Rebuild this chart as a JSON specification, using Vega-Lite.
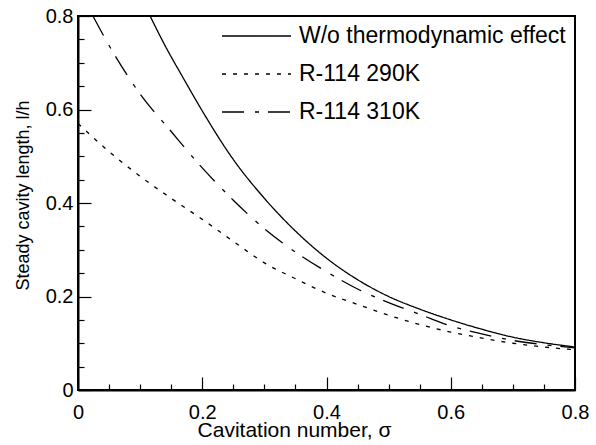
{
  "$schema": "https://vega.github.io/schema/vega-lite/v6.json",
  "autosize": {"type": "none"},
  "width": 497,
  "height": 374,
  "padding": {"left": 78, "top": 16, "right": 21, "bottom": 55},
  "background": "white",
  "config": {
    "font": "Liberation Sans",
    "view": {"stroke": "black", "strokeWidth": 2},
    "axis": {
      "grid": false,
      "domainColor": "black",
      "domainWidth": 2,
      "tickColor": "black",
      "tickWidth": 1.2,
      "labelColor": "black",
      "titleColor": "black",
      "labelFont": "Liberation Sans",
      "titleFont": "Liberation Sans",
      "labelFontSize": 20,
      "titleFontWeight": "normal"
    }
  },
  "data": {
    "values": [
      {"s": 0.116, "L": 0.8, "series": "W/o thermodynamic effect"},
      {"s": 0.14, "L": 0.737, "series": "W/o thermodynamic effect"},
      {"s": 0.17, "L": 0.666, "series": "W/o thermodynamic effect"},
      {"s": 0.2, "L": 0.597, "series": "W/o thermodynamic effect"},
      {"s": 0.25, "L": 0.493, "series": "W/o thermodynamic effect"},
      {"s": 0.3, "L": 0.41, "series": "W/o thermodynamic effect"},
      {"s": 0.35, "L": 0.34, "series": "W/o thermodynamic effect"},
      {"s": 0.4, "L": 0.282, "series": "W/o thermodynamic effect"},
      {"s": 0.45, "L": 0.236, "series": "W/o thermodynamic effect"},
      {"s": 0.5, "L": 0.2, "series": "W/o thermodynamic effect"},
      {"s": 0.55, "L": 0.173, "series": "W/o thermodynamic effect"},
      {"s": 0.6, "L": 0.15, "series": "W/o thermodynamic effect"},
      {"s": 0.65, "L": 0.13, "series": "W/o thermodynamic effect"},
      {"s": 0.7, "L": 0.113, "series": "W/o thermodynamic effect"},
      {"s": 0.75, "L": 0.101, "series": "W/o thermodynamic effect"},
      {"s": 0.8, "L": 0.092, "series": "W/o thermodynamic effect"},

      {"s": 0.0, "L": 0.57, "series": "R-114 290K"},
      {"s": 0.05, "L": 0.51, "series": "R-114 290K"},
      {"s": 0.1, "L": 0.457, "series": "R-114 290K"},
      {"s": 0.15, "L": 0.41, "series": "R-114 290K"},
      {"s": 0.2, "L": 0.365, "series": "R-114 290K"},
      {"s": 0.25, "L": 0.318, "series": "R-114 290K"},
      {"s": 0.3, "L": 0.272, "series": "R-114 290K"},
      {"s": 0.35, "L": 0.238, "series": "R-114 290K"},
      {"s": 0.4, "L": 0.207, "series": "R-114 290K"},
      {"s": 0.45, "L": 0.183, "series": "R-114 290K"},
      {"s": 0.5, "L": 0.16, "series": "R-114 290K"},
      {"s": 0.55, "L": 0.14, "series": "R-114 290K"},
      {"s": 0.6, "L": 0.124, "series": "R-114 290K"},
      {"s": 0.65, "L": 0.111, "series": "R-114 290K"},
      {"s": 0.7, "L": 0.1, "series": "R-114 290K"},
      {"s": 0.75, "L": 0.092, "series": "R-114 290K"},
      {"s": 0.8, "L": 0.086, "series": "R-114 290K"},

      {"s": 0.024, "L": 0.8, "series": "R-114 310K"},
      {"s": 0.05, "L": 0.737, "series": "R-114 310K"},
      {"s": 0.1, "L": 0.633, "series": "R-114 310K"},
      {"s": 0.15, "L": 0.553, "series": "R-114 310K"},
      {"s": 0.2, "L": 0.475, "series": "R-114 310K"},
      {"s": 0.25, "L": 0.406, "series": "R-114 310K"},
      {"s": 0.3, "L": 0.345, "series": "R-114 310K"},
      {"s": 0.35, "L": 0.295, "series": "R-114 310K"},
      {"s": 0.4, "L": 0.253, "series": "R-114 310K"},
      {"s": 0.45, "L": 0.216, "series": "R-114 310K"},
      {"s": 0.5, "L": 0.187, "series": "R-114 310K"},
      {"s": 0.55, "L": 0.162, "series": "R-114 310K"},
      {"s": 0.6, "L": 0.137, "series": "R-114 310K"},
      {"s": 0.65, "L": 0.12, "series": "R-114 310K"},
      {"s": 0.7, "L": 0.106, "series": "R-114 310K"},
      {"s": 0.75, "L": 0.097, "series": "R-114 310K"},
      {"s": 0.8, "L": 0.09, "series": "R-114 310K"}
    ]
  },
  "mark": {"type": "line", "color": "black", "strokeWidth": 1.3, "clip": true, "interpolate": "monotone"},
  "encoding": {
    "x": {
      "field": "s",
      "type": "quantitative",
      "scale": {"domain": [0, 0.8], "nice": false},
      "axis": {
        "title": "Cavitation number, σ",
        "titleFontSize": 21,
        "titleX": 216,
        "titleY": 46,
        "titleAnchor": "middle",
        "titleAlign": "center",
        "titleBaseline": "alphabetic",
        "values": [0, 0.05, 0.1, 0.15, 0.2, 0.25, 0.3, 0.35, 0.4, 0.45, 0.5, 0.55, 0.6, 0.65, 0.7, 0.75, 0.8],
        "labelExpr": "round(datum.value*20) % 4 == 0 ? (datum.value == 0 ? '0' : format(datum.value, '.1f')) : ''",
        "tickSize": {"condition": {"test": "round(datum.value*20) % 4 == 0", "value": -13}, "value": -6},
        "labelPadding": 25,
        "labelFlush": false,
        "labelOverlap": false
      }
    },
    "y": {
      "field": "L",
      "type": "quantitative",
      "scale": {"domain": [0, 0.8], "nice": false},
      "axis": {
        "title": "Steady cavity length, l/h",
        "titleFontSize": 18,
        "titleX": -50,
        "titleY": 179,
        "titleAngle": -90,
        "titleAlign": "center",
        "titleBaseline": "alphabetic",
        "values": [0, 0.05, 0.1, 0.15, 0.2, 0.25, 0.3, 0.35, 0.4, 0.45, 0.5, 0.55, 0.6, 0.65, 0.7, 0.75, 0.8],
        "labelExpr": "round(datum.value*20) % 4 == 0 ? (datum.value == 0 ? '0' : format(datum.value, '.1f')) : ''",
        "tickSize": {"condition": {"test": "round(datum.value*20) % 4 == 0", "value": -13}, "value": -6},
        "labelPadding": 18,
        "labelFlush": false,
        "labelOverlap": false
      }
    },
    "strokeDash": {
      "field": "series",
      "type": "nominal",
      "scale": {
        "domain": ["W/o thermodynamic effect", "R-114 290K", "R-114 310K"],
        "range": [[1, 0], [4, 7], [22, 11, 4, 9]]
      },
      "legend": {
        "title": null,
        "orient": "none",
        "legendX": 143,
        "legendY": 1,
        "padding": 0,
        "symbolType": "stroke",
        "symbolSize": 4761,
        "symbolStrokeWidth": 1.3,
        "symbolStrokeColor": "black",
        "clipHeight": 38,
        "rowPadding": 0,
        "labelOffset": 7,
        "labelFont": "Liberation Sans",
        "labelFontSize": 23,
        "labelColor": "black",
        "labelLimit": 400
      }
    }
  }
}
